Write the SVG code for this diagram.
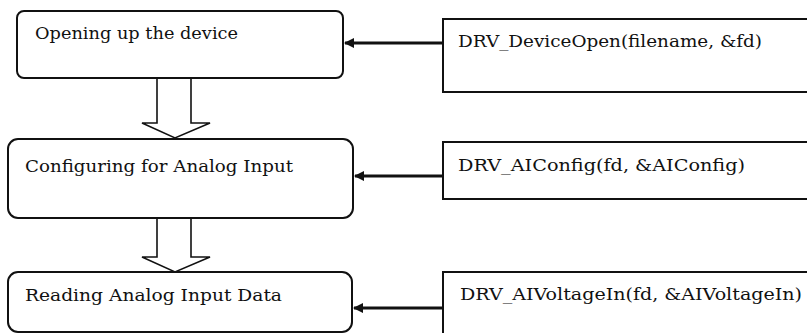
<svg xmlns="http://www.w3.org/2000/svg" width="807" height="333" viewBox="0 0 807 333">
  <style>
    .step { fill: #ffffff; stroke: #111111; stroke-width: 2; }
    .call { fill: #ffffff; stroke: #111111; stroke-width: 2; }
    .label { font-family: "DejaVu Serif", "Liberation Serif", serif; font-size: 17px; fill: #111111; }
    .link { fill: none; stroke: #111111; stroke-width: 3; }
    .flow { fill: #ffffff; stroke: #111111; stroke-width: 1.6; stroke-linejoin: miter; }
  </style>
  <defs>
    <marker id="head" viewBox="0 0 10 10" refX="9" refY="5" markerWidth="3.6" markerHeight="3.4" orient="auto" markerUnits="strokeWidth">
      <path d="M0,0 L10,5 L0,10 z" fill="#111111"/>
    </marker>
  </defs>

  <rect width="807" height="333" fill="#ffffff"/>

  <!-- hollow block arrows between the steps (drawn first so boxes sit on top) -->
  <g id="connectors">
    <path class="flow" d="M157,78 V123 H142 L175,138 L210,123 H191 V78"/>
    <path class="flow" d="M157,218 V257 H142 L175,272 L210,257 H191 V218"/>
    <line class="link" x1="443" y1="43" x2="345" y2="43" marker-end="url(#head)"/>
    <line class="link" x1="443" y1="176" x2="355" y2="176" marker-end="url(#head)"/>
    <line class="link" x1="443" y1="308" x2="354" y2="308" marker-end="url(#head)"/>
  </g>

  <!-- processing steps -->
  <g id="step-open">
    <rect class="step" x="17" y="11" width="326" height="67" rx="7"/>
    <text class="label" x="35" y="39" textLength="203" lengthAdjust="spacingAndGlyphs">Opening up the device</text>
  </g>
  <g id="step-config">
    <rect class="step" x="8" y="139" width="345" height="79" rx="10"/>
    <text class="label" x="25" y="172" textLength="268" lengthAdjust="spacingAndGlyphs">Configuring for Analog Input</text>
  </g>
  <g id="step-read">
    <rect class="step" x="8" y="272" width="344" height="60" rx="10"/>
    <text class="label" x="25" y="301" textLength="257" lengthAdjust="spacingAndGlyphs">Reading Analog Input Data</text>
  </g>

  <!-- driver calls -->
  <g id="call-open">
    <rect class="call" x="443" y="19" width="380" height="73"/>
    <text class="label" x="458" y="47" textLength="304" lengthAdjust="spacingAndGlyphs">DRV_DeviceOpen(filename, &amp;fd)</text>
  </g>
  <g id="call-config">
    <rect class="call" x="443" y="142" width="380" height="57"/>
    <text class="label" x="458" y="171" textLength="287" lengthAdjust="spacingAndGlyphs">DRV_AIConfig(fd, &amp;AIConfig)</text>
  </g>
  <g id="call-read">
    <rect class="call" x="443" y="272" width="380" height="80"/>
    <text class="label" x="460" y="300" textLength="342" lengthAdjust="spacingAndGlyphs">DRV_AIVoltageIn(fd, &amp;AIVoltageIn)</text>
  </g>
</svg>
